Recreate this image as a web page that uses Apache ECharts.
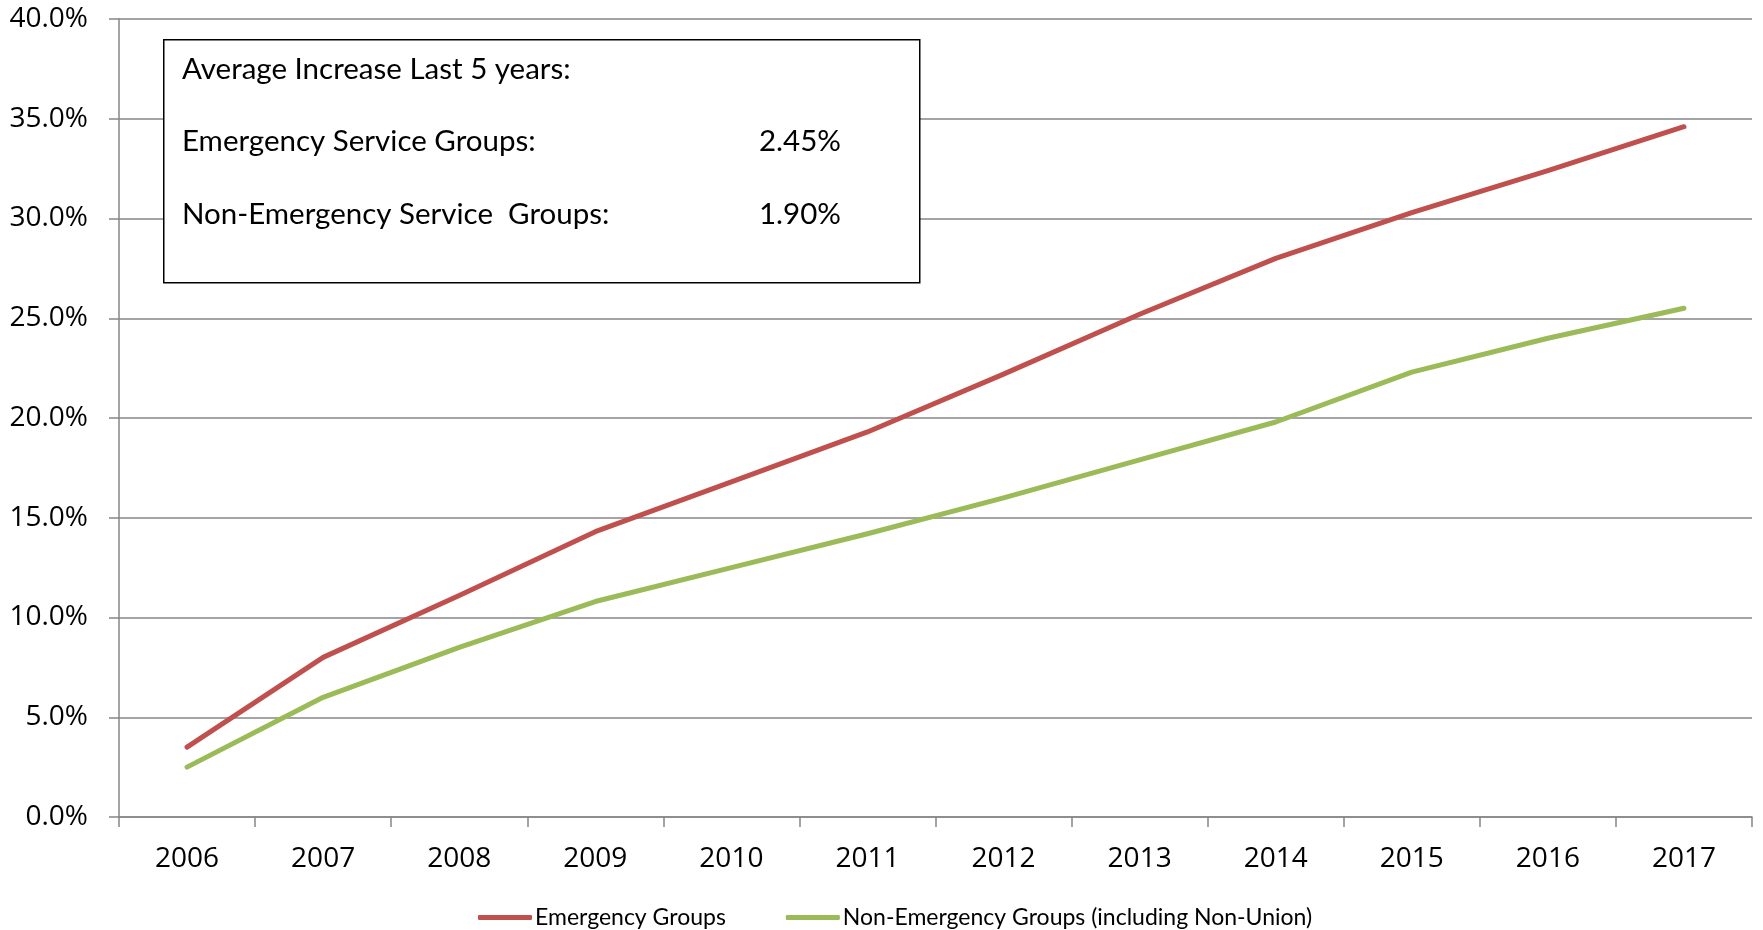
<!DOCTYPE html>
<html>
<head>
<meta charset="utf-8">
<script src="https://cdn.jsdelivr.net/npm/echarts@6/dist/echarts.min.js"></script>
<style>
  html, body { margin: 0; padding: 0; background: #fff; }
  #chart { width: 1763px; height: 930px; }
</style>
</head>
<body>
<div id="chart"></div>
<script>
// Cumulative increase by year
const years = ['2006', '2007', '2008', '2009', '2010', '2011', '2012', '2013', '2014', '2015', '2016', '2017'];
const emergency = [3.5, 8.0, 11.1, 14.3, 16.8, 19.3, 22.2, 25.2, 28.0, 30.3, 32.4, 34.6];
const nonEmergency = [2.5, 6.0, 8.5, 10.8, 12.5, 14.2, 16.0, 17.9, 19.8, 22.3, 24.0, 25.5];
const seriesNames = ['Emergency Groups', 'Non-Emergency Groups (including Non-Union)'];

// Summary note in the upper-left corner
const noteTitle = 'Average Increase Last 5 years:';
const noteLabels = ['Emergency Service Groups:', 'Non-Emergency Service  Groups:'];
const noteValues = ['2.45%', '1.90%'];

const axisFont = '"Open Sans", "Noto Sans", sans-serif';
const narrowFont = 'Lato, sans-serif';
const gridColor = '#868686';

const chart = echarts.init(document.getElementById('chart'), null, { renderer: 'canvas' });

const noteFontSize = 29.5;
const noteText = (text, x, y) => ({
  type: 'text',
  left: x,
  top: y,
  z: 10,
  style: { text: text, fontFamily: narrowFont, fontSize: noteFontSize, fill: '#000' }
});

chart.setOption({
  animation: false,
  backgroundColor: '#fff',
  grid: { left: 119, right: 11, top: 19, bottom: 113, containLabel: false },
  legend: {
    data: seriesNames,
    left: 473,
    top: 901,
    itemWidth: 54,
    itemHeight: 5,
    itemGap: 60,
    icon: 'roundRect',
    textStyle: { fontFamily: narrowFont, fontSize: 23, color: '#000', padding: [0, 0, 0, -2] }
  },
  xAxis: {
    type: 'category',
    data: years,
    boundaryGap: true,
    axisLine: { lineStyle: { color: gridColor, width: 1.5 } },
    axisTick: { show: true, length: 10, inside: false, lineStyle: { color: gridColor, width: 1.5 } },
    axisLabel: { fontFamily: axisFont, fontSize: 28, color: '#000', margin: 28 },
    splitLine: { show: false }
  },
  yAxis: {
    type: 'value',
    min: 0,
    max: 40,
    interval: 5,
    axisLine: { show: true, lineStyle: { color: gridColor, width: 1.5 } },
    axisTick: { show: true, length: 10, lineStyle: { color: gridColor, width: 1.5 } },
    axisLabel: {
      fontFamily: axisFont, fontSize: 28, color: '#000', margin: 31,
      formatter: v => v.toFixed(1) + '%'
    },
    splitLine: { show: true, lineStyle: { color: gridColor, width: 1.5 } }
  },
  series: [
    {
      name: seriesNames[0],
      type: 'line',
      data: emergency,
      symbol: 'none',
      color: '#C0504D',
      lineStyle: { width: 5, cap: 'round', join: 'round' },
      z: 3
    },
    {
      name: seriesNames[1],
      type: 'line',
      data: nonEmergency,
      symbol: 'none',
      color: '#9BBB59',
      lineStyle: { width: 5, cap: 'round', join: 'round' },
      z: 2
    }
  ],
  graphic: [
    {
      type: 'rect',
      left: 163,
      top: 39,
      z: 9,
      shape: { width: 756, height: 243 },
      style: { fill: '#fff', stroke: '#000', lineWidth: 1.5 }
    },
    noteText(noteTitle, 182, 54),
    noteText(noteLabels[0], 182, 126),
    noteText(noteValues[0], 759, 126),
    noteText(noteLabels[1], 182, 199),
    noteText(noteValues[1], 759, 199)
  ]
});
</script>
</body>
</html>
